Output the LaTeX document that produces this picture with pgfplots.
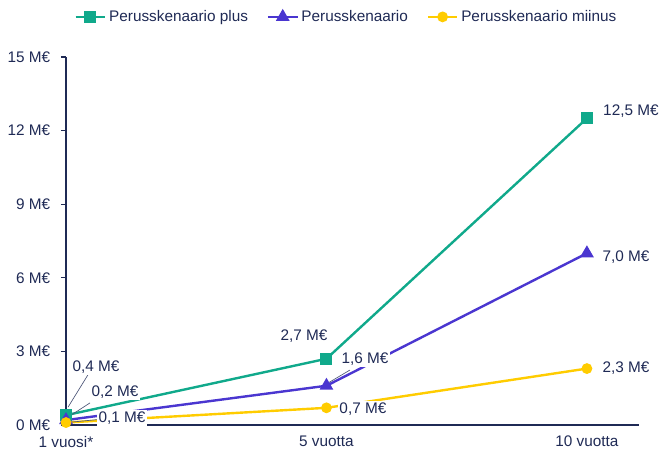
\documentclass[border=0pt]{standalone}
\usepackage{pgfplots}
\pgfplotsset{compat=1.18}
\usepackage{fontspec}
\setmainfont{Liberation Sans}
\definecolor{cgreen}{HTML}{10A98B}
\definecolor{cpurple}{HTML}{4A36D0}
\definecolor{cyellow}{HTML}{FFCC00}
\definecolor{cnavy}{HTML}{1F2A55}
\newcommand{\lblfont}{\fontsize{11.5}{13.5}\selectfont}
\begin{document}
\begin{tikzpicture}
\useasboundingbox (-49.5pt,-21.75pt) rectangle (446.25pt,318.75pt);
\begin{axis}[
 at={(0pt,0pt)}, anchor=south west,
 scale only axis, width=429.75pt, height=276pt,
 xmin=0, xmax=2.2, ymin=0, ymax=15,
 clip=false,
 axis x line*=bottom, axis y line*=left,
 axis line style={cnavy, line width=0.8pt},
 xtick={0,1,2}, xticklabels={1 vuosi*, 5 vuotta, 10 vuotta},
 ytick={0,3,6,9,12,15},
 yticklabels={0 M€,3 M€,6 M€,9 M€,12 M€,15 M€},
 xtick style={draw=none},
 ytick style={cnavy, line width=0.8pt},
 tick align=outside, major tick length=3.75pt,
 ticklabel style={font=\lblfont, text=cnavy},
 xticklabel style={yshift=-1pt},
 yticklabel style={xshift=-4.5pt},
 legend style={at={(axis description cs:0.49,1.109)}, anchor=center, draw=none,
   font=\lblfont, text=cnavy, legend columns=-1,
   /tikz/every even column/.append style={column sep=12pt}},
 legend image code/.code={\draw[mark repeat=2,mark phase=2] plot coordinates {(0cm,0cm)(0.39cm,0cm)(0.78cm,0cm)};},
 legend cell align=left,
]
\addplot[cgreen, line width=1.8pt, mark=square*, mark size=3.6pt, mark options={solid}]
 coordinates {(0,0.4) (1,2.7) (2,12.5)};
\addlegendentry{Perusskenaario plus}
\addplot[cpurple, line width=1.8pt, mark=triangle*, mark size=4.2pt]
 coordinates {(0,0.2) (1,1.6) (2,7.0)};
\addlegendentry{Perusskenaario}
\addplot[cyellow, line width=1.8pt, mark=*, mark size=3.1pt]
 coordinates {(0,0.1) (1,0.7) (2,2.3)};
\addlegendentry{Perusskenaario miinus}

\begin{scope}[every node/.style={fill=white, inner sep=1pt, text=cnavy, font=\lblfont}]
\draw[cnavy!80, line width=0.5pt] (axis cs:0.008,0.73) -- (axis cs:0.084,2.04);
\draw[cnavy!80, line width=0.5pt] (axis cs:0.015,0.37) -- (axis cs:0.092,0.9);
\draw[cnavy!80, line width=0.5pt] (axis cs:0.023,0.12) -- (axis cs:0.12,0.22);
\draw[cnavy!80, line width=0.5pt] (axis cs:1.006,1.71) -- (axis cs:1.09,2.24);
\node at (axis cs:0.115,2.36) {0,4 M€};
\node at (axis cs:0.188,1.345) {0,2 M€};
\node at (axis cs:0.215,0.285) {0,1 M€};
\node at (axis cs:0.914,3.63) {2,7 M€};
\node at (axis cs:1.148,2.69) {1,6 M€};
\node at (axis cs:1.14,0.65) {0,7 M€};
\node at (axis cs:2.169,12.8) {12,5 M€};
\node at (axis cs:2.15,6.85) {7,0 M€};
\node at (axis cs:2.15,2.32) {2,3 M€};
\end{scope}
\end{axis}
\end{tikzpicture}
\end{document}
